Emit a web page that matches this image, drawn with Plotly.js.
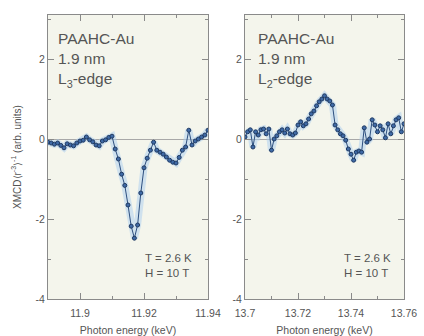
<!DOCTYPE html>
<html>
<head>
<meta charset="utf-8">
<script src="https://cdn.plot.ly/plotly-3.0.1.min.js"></script>
<style>html,body{margin:0;padding:0;background:#fff;}#chart{width:424px;height:336px;}</style>
</head>
<body>
<div id="chart"></div>
<script>
// L3-edge (left panel)
const energyL3 = [11.890,11.891,11.892,11.893,11.894,11.895,11.896,11.897,11.898,11.899,
  11.900,11.901,11.902,11.903,11.904,11.905,11.906,11.907,11.908,11.909,
  11.910,11.911,11.912,11.913,11.914,11.915,11.916,11.917,11.918,11.919,
  11.920,11.921,11.922,11.923,11.924,11.925,11.926,11.927,11.928,11.929,
  11.930,11.931,11.932,11.933,11.934,11.935,11.936,11.937,11.938,11.939,11.940];
const xmcdL3 = [-0.08,-0.10,-0.13,-0.10,-0.16,-0.22,-0.12,-0.15,-0.17,-0.10,
  -0.05,-0.03,0.05,-0.02,-0.07,-0.15,-0.17,-0.05,-0.02,0.04,
  0.07,-0.25,-0.50,-0.88,-1.16,-1.65,-2.18,-2.48,-2.15,-1.35,
  -0.72,-0.48,-0.28,-0.08,-0.28,-0.33,-0.38,-0.45,-0.53,-0.58,
  -0.60,-0.46,-0.28,-0.20,0.22,-0.15,-0.05,0.00,0.05,0.10,0.22];

// L2-edge (right panel)
const energyL2 = [13.700,13.701,13.702,13.703,13.704,13.705,13.706,13.707,13.708,13.709,
  13.710,13.711,13.712,13.713,13.714,13.715,13.716,13.717,13.718,13.719,
  13.720,13.721,13.722,13.723,13.724,13.725,13.726,13.727,13.728,13.729,
  13.730,13.731,13.732,13.733,13.734,13.735,13.736,13.737,13.738,13.739,
  13.740,13.741,13.742,13.743,13.744,13.745,13.746,13.747,13.748,13.749,
  13.750,13.751,13.752,13.753,13.754,13.755,13.756,13.757,13.758,13.759,13.760];
const xmcdL2 = [0.05,0.18,0.23,-0.20,0.18,0.10,0.23,0.25,0.13,0.25,
  -0.28,0.00,0.08,0.18,0.23,0.15,0.25,0.13,0.10,0.15,
  0.35,0.43,0.33,0.38,0.50,0.63,0.70,0.83,0.93,1.00,
  1.08,1.00,0.95,0.85,0.35,0.23,0.13,0.08,-0.03,-0.25,
  -0.38,-0.53,-0.33,-0.30,-0.33,0.28,-0.08,0.00,0.48,0.35,
  0.18,0.33,0.23,0.03,0.38,0.13,0.33,0.48,0.53,0.18,0.38];

const ticksL3 = [11.9, 11.92, 11.94];
const tickTextL3 = ["11.9", "11.92", "11.94"];
const ticksL2 = [13.7, 13.72, 13.74, 13.76];
const tickTextL2 = ["13.7", "13.72", "13.74", "13.76"];
const ticksY = [-4, -2, 0, 2];
const tickTextY = ["-4", "-2", "0", "2"];

const labelsL3 = "PAAHC-Au<br>1.9 nm<br>L<sub>3</sub>-edge";
const labelsL2 = "PAAHC-Au<br>1.9 nm<br>L<sub>2</sub>-edge";
const conditions = "T = 2.6 K<br>H = 10 T";

const halo = {color: 'rgba(170,205,240,0.5)', width: 7};
const lineStyle = {color: '#2d4f7f', width: 1};
const markerStyle = {size: 4, color: '#3f6aa6', line: {color: '#1f3a63', width: 1}};

const traces = [
  {x: energyL3, y: xmcdL3, xaxis: 'x', yaxis: 'y', mode: 'lines', line: halo, hoverinfo: 'skip', showlegend: false},
  {x: energyL3, y: xmcdL3, xaxis: 'x', yaxis: 'y', mode: 'lines+markers', line: lineStyle, marker: markerStyle, showlegend: false},
  {x: energyL2, y: xmcdL2, xaxis: 'x2', yaxis: 'y2', mode: 'lines', line: halo, hoverinfo: 'skip', showlegend: false},
  {x: energyL2, y: xmcdL2, xaxis: 'x2', yaxis: 'y2', mode: 'lines+markers', line: lineStyle, marker: markerStyle, showlegend: false}
];

const tickFont = {family: 'Liberation Sans, Arial, sans-serif', size: 10.5, color: '#555'};
const axisCommon = {
  showline: true, linecolor: '#8a8a8a', linewidth: 1, mirror: 'ticks',
  ticks: 'inside', ticklen: 6, tickcolor: '#8a8a8a', tickwidth: 1,
  showgrid: false, zeroline: false, tickfont: tickFont, fixedrange: true
};
const yDomain = [1 - 299/336, 1 - 15/336];

const layout = {
  width: 424, height: 336,
  margin: {l: 0, r: 0, t: 0, b: 0},
  paper_bgcolor: '#ffffff',
  plot_bgcolor: '#f4f5ec',
  font: {family: 'Liberation Sans, Arial, sans-serif', color: '#555'},
  xaxis: Object.assign({}, axisCommon, {
    domain: [48/424, 208/424], range: [11.89, 11.94], anchor: 'y',
    tickvals: ticksL3, ticktext: tickTextL3, ticklabelstandoff: 4,
    minor: {dtick: 0.01, tick0: 11.89, ticks: 'inside', ticklen: 3, tickcolor: '#8a8a8a'},
    title: {text: 'Photon energy (keV)', font: {size: 10.5, color: '#555'}, standoff: 9}
  }),
  yaxis: Object.assign({}, axisCommon, {
    domain: yDomain, range: [-4, 3.1], anchor: 'x',
    tickvals: ticksY, ticktext: tickTextY,
    zeroline: true, zerolinecolor: '#a8a8a8', zerolinewidth: 1,
    minor: {dtick: 1, tick0: 0, ticks: 'inside', ticklen: 3, tickcolor: '#8a8a8a'},
    title: {text: 'XMCD⟨r<sup>-3</sup>⟩<sup>-1</sup> (arb. units)', font: {size: 10, color: '#555'}, standoff: 12}
  }),
  xaxis2: Object.assign({}, axisCommon, {
    domain: [245/424, 404/424], range: [13.7, 13.76], anchor: 'y2',
    tickvals: ticksL2, ticktext: tickTextL2, ticklabelstandoff: 4,
    minor: {dtick: 0.01, tick0: 13.7, ticks: 'inside', ticklen: 3, tickcolor: '#8a8a8a'},
    title: {text: 'Photon energy (keV)', font: {size: 10.5, color: '#555'}, standoff: 9}
  }),
  yaxis2: Object.assign({}, axisCommon, {
    domain: yDomain, range: [-4, 3.1], anchor: 'x2',
    tickvals: ticksY, ticktext: tickTextY,
    zeroline: true, zerolinecolor: '#a8a8a8', zerolinewidth: 1,
    minor: {dtick: 1, tick0: 0, ticks: 'inside', ticklen: 3, tickcolor: '#8a8a8a'}
  }),
  annotations: [
    {xref: 'x domain', yref: 'y domain', x: 0.05, y: 0.955, xanchor: 'left', yanchor: 'top', align: 'left',
     text: labelsL3, showarrow: false, font: {size: 15.5, color: '#555'}},
    {xref: 'x2 domain', yref: 'y2 domain', x: 0.07, y: 0.955, xanchor: 'left', yanchor: 'top', align: 'left',
     text: labelsL2, showarrow: false, font: {size: 15.5, color: '#555'}},
    {xref: 'x domain', yref: 'y domain', x: 0.91, y: 0.065, xanchor: 'right', yanchor: 'bottom', align: 'left',
     text: conditions, showarrow: false, font: {size: 11.5, color: '#555'}},
    {xref: 'x2 domain', yref: 'y2 domain', x: 0.93, y: 0.065, xanchor: 'right', yanchor: 'bottom', align: 'left',
     text: conditions, showarrow: false, font: {size: 11.5, color: '#555'}}
  ]
};

Plotly.newPlot('chart', traces, layout, {staticPlot: true, displayModeBar: false});
</script>
</body>
</html>
